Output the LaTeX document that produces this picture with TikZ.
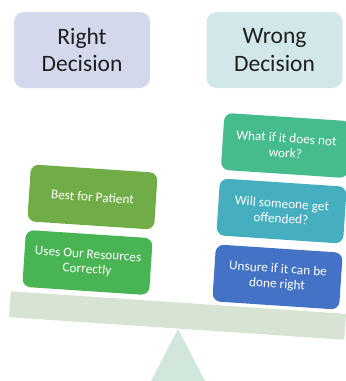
\documentclass[tikz,border=0pt]{standalone}
\usepackage{fontspec}
\setmainfont{Carlito}
\definecolor{rightbg}{HTML}{D4D8EC}
\definecolor{wrongbg}{HTML}{D2E7E9}
\definecolor{bestgreen}{HTML}{70AD47}
\definecolor{usesgreen}{HTML}{48B454}
\definecolor{whatifgreen}{HTML}{46BB8C}
\definecolor{willteal}{HTML}{45AFC0}
\definecolor{unsureblue}{HTML}{4472C4}
\definecolor{beamgreen}{HTML}{D8E4D3}
\definecolor{fulcrumgreen}{HTML}{D2E7DC}
\begin{document}
\begin{tikzpicture}[x=1pt,y=-1pt,
  head/.style={rounded corners=10pt, minimum width=136pt, minimum height=76pt,
    align=center, inner sep=0pt, text=black!88,
    font=\fontsize{23.5}{27.5}\selectfont},
  weight/.style={rounded corners=8pt, minimum width=127pt, minimum height=57pt,
    align=center, inner sep=2pt, text=white, rotate=-3.8,
    font=\fontsize{13.3}{15}\selectfont},
  beamstyle/.style={fill=beamgreen, minimum width=336pt, minimum height=26pt,
    inner sep=0pt, rotate=-3.85},
]
\useasboundingbox (0,0) rectangle (346,381);
\begin{scope}
  \clip (0,0) rectangle (346,381);
  % fulcrum
  \fill[fulcrumgreen] (178,329) -- (232,433) -- (124,433) -- cycle;
  % lever
  \node[beamstyle] (beam) at (177.5,315.5) {};
  % headings
  \node[head, fill=rightbg] (right) at (82,50) {Right\\Decision};
  \node[head, fill=wrongbg] (wrong) at (274.5,50) {Wrong\\Decision};
  % left pan
  \node[weight, fill=bestgreen] (best) at (92.5,197) {Best for Patient};
  \node[weight, fill=usesgreen] (uses) at (87.5,262.5) {Uses Our Resources\\Correctly};
  % right pan
  \node[weight, fill=whatifgreen] (whatif) at (286,145.5) {What if it does not\\work?};
  \node[weight, fill=willteal] (will) at (281.5,211) {Will someone get\\offended?};
  \node[weight, fill=unsureblue] (unsure) at (277.5,277) {Unsure if it can be\\done right};
\end{scope}
\end{tikzpicture}
\end{document}
